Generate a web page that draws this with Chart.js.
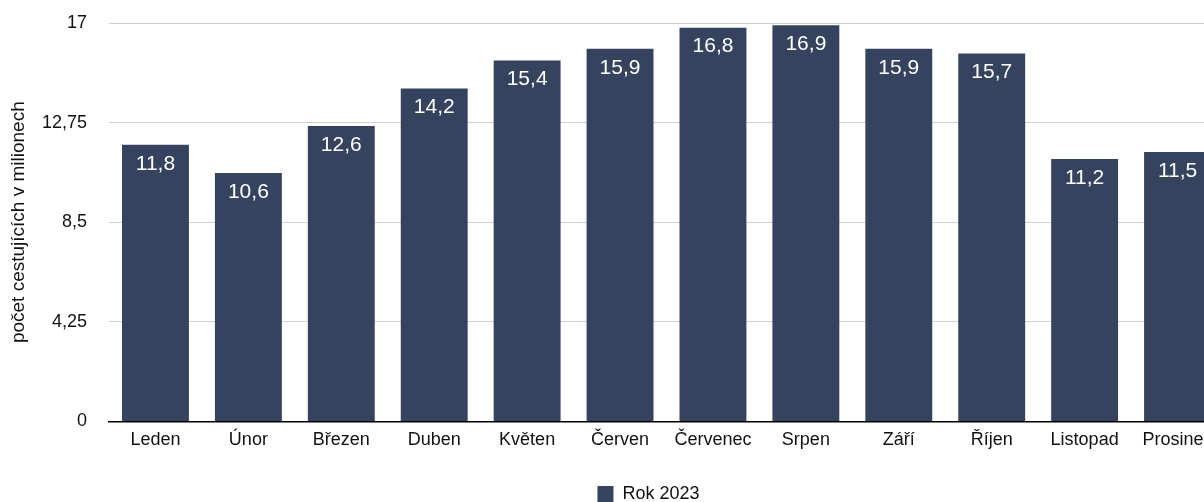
<!DOCTYPE html>
<html>
<head>
<meta charset="utf-8">
<script src="https://cdn.jsdelivr.net/npm/chart.js@4/dist/chart.umd.min.js"></script>
<style>
html,body{margin:0;padding:0;background:#fff;overflow:hidden;width:1204px;height:502px;}
#wrap{position:absolute;left:0;top:0;width:1297px;height:513px;}
</style>
</head>
<body>
<div id="wrap"><canvas id="c" width="1297" height="513"></canvas></div>
<script>
const categories = ["Leden","Únor","Březen","Duben","Květen","Červen","Červenec","Srpen","Září","Říjen","Listopad","Prosinec"];
const values2023 = [11.8,10.6,12.6,14.2,15.4,15.9,16.8,16.9,15.9,15.7,11.2,11.5];
const yTicks = [0,4.25,8.5,12.75,17];
const seriesName = "Rok 2023";
const yTitle = "počet cestujících v milionech";

const FONT = "'Liberation Sans', Arial, Helvetica, sans-serif";
const BAR = "#35435f";
const fmt = v => String(v).replace('.', ',');

const labelPlugin = {
  id: 'barLabels',
  afterDatasetsDraw(chart) {
    const ctx = chart.ctx;
    const meta = chart.getDatasetMeta(0);
    ctx.save();
    ctx.fillStyle = '#ffffff';
    ctx.font = '21px ' + FONT;
    ctx.textAlign = 'center';
    ctx.textBaseline = 'middle';
    meta.data.forEach((bar, i) => {
      ctx.fillText(fmt(chart.data.datasets[0].data[i]), bar.x, bar.y + 19);
    });
    ctx.restore();
  }
};

new Chart(document.getElementById('c'), {
  type: 'bar',
  data: {
    labels: categories,
    datasets: [{
      label: seriesName,
      data: values2023,
      backgroundColor: BAR,
      borderWidth: 0,
      barPercentage: 0.72,
      categoryPercentage: 1.0
    }]
  },
  options: {
    responsive: false,
    animation: false,
    devicePixelRatio: 1,
    layout: { padding: { top: 23, right: 0, left: 0, bottom: 0 } },
    plugins: {
      tooltip: { enabled: false },
      legend: {
        position: 'bottom',
        labels: {
          boxWidth: 16, boxHeight: 16,
          color: '#111',
          padding: 18,
          font: { family: FONT, size: 18 }
        }
      }
    },
    scales: {
      x: {
        afterFit(axis) { axis.height = axis.height + 8; axis.paddingLeft = 0; axis.paddingRight = 0; },
        grid: { display: false, drawTicks: false },
        border: { color: '#000', width: 1.5 },
        ticks: { color: '#111', font: { family: FONT, size: 18 }, padding: 8, maxRotation: 0, autoSkip: false }
      },
      y: {
        min: 0, max: 17,
        afterBuildTicks(axis) { axis.ticks = yTicks.map(v => ({ value: v })); },
        afterFit(axis) { axis.width = 109; axis.paddingTop = 0; axis.paddingBottom = 0; },
        grid: { color: '#d0d0d0', lineWidth: 1, drawTicks: false },
        border: { display: false },
        ticks: {
          color: '#111', padding: 22,
          font: { family: FONT, size: 18 },
          callback: v => fmt(v)
        },
        title: {
          display: true, text: yTitle, color: '#111',
          font: { family: FONT, size: 19 }, padding: { top: 7, bottom: 0 }
        }
      },
      yRight: {
        position: 'right',
        min: 0, max: 17,
        afterFit(axis) { axis.width = 73; axis.paddingTop = 0; axis.paddingBottom = 0; },
        grid: { display: false, drawTicks: false },
        border: { display: false },
        ticks: { display: false }
      }
    }
  },
  plugins: [labelPlugin]
});
</script>
</body>
</html>
